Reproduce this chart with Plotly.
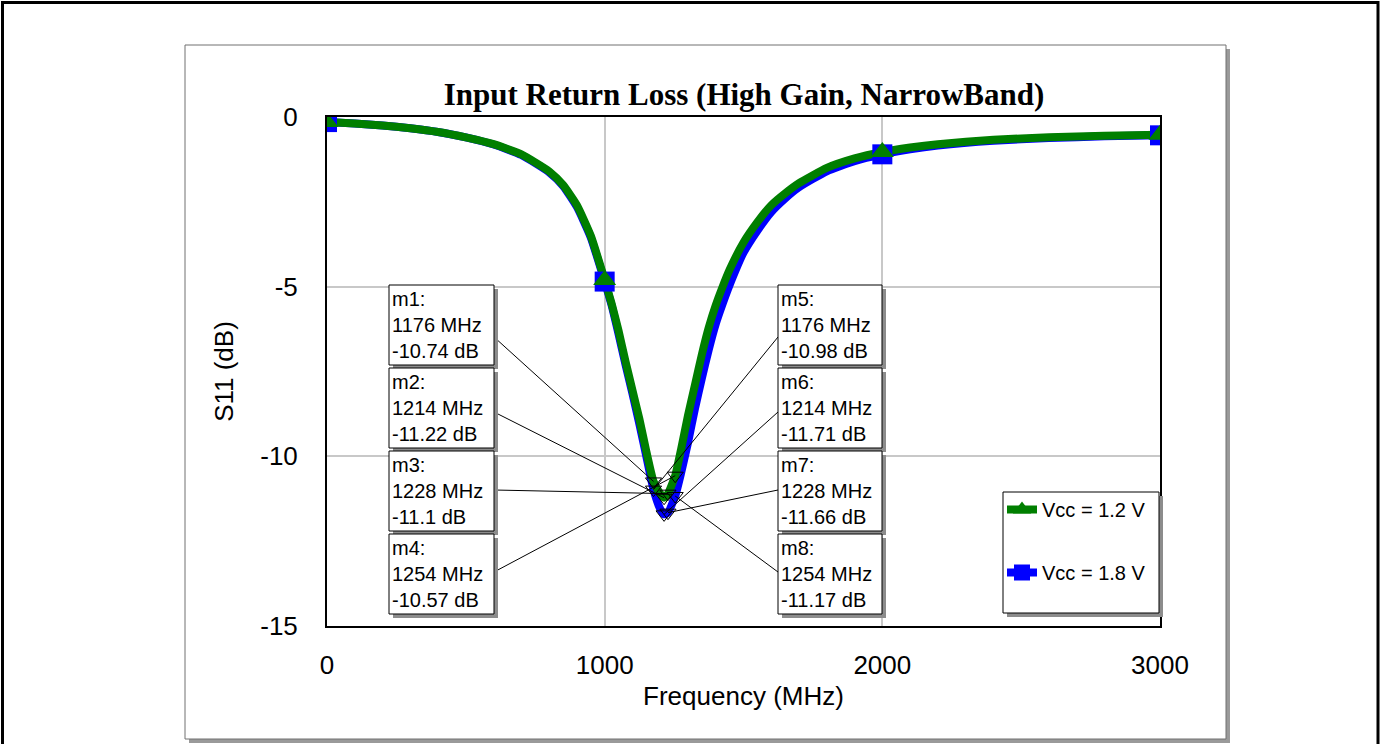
import plotly.graph_objects as go

# ---------------- data ----------------
freq_mhz = [0, 100, 200, 300, 400, 500, 600, 700, 800, 850, 900, 950, 1000, 1025, 1050,
            1075, 1100, 1125, 1150, 1176, 1200, 1214, 1228, 1254, 1275, 1300, 1325, 1350,
            1375, 1400, 1425, 1450, 1500, 1550, 1600, 1650, 1700, 1800, 1900, 2000, 2100,
            2200, 2400, 2600, 2800, 3000]
s11_12v = [-0.15, -0.19, -0.25, -0.33, -0.44, -0.6, -0.8, -1.1, -1.6, -2.0, -2.6, -3.5,
           -4.8, -5.5, -6.3, -7.2, -8.05, -8.9, -9.85, -10.74, -11.1, -11.22, -11.1,
           -10.57, -9.8, -8.8, -7.9, -7.0, -6.2, -5.55, -5.0, -4.5, -3.7, -3.1, -2.6,
           -2.25, -1.95, -1.5, -1.22, -1.03, -0.9, -0.8, -0.67, -0.6, -0.55, -0.52]
s11_18v = [-0.15, -0.19, -0.25, -0.33, -0.44, -0.6, -0.81, -1.12, -1.63, -2.03, -2.65,
           -3.55, -4.85, -5.55, -6.4, -7.3, -8.15, -9.05, -10.0, -10.98, -11.55, -11.71,
           -11.66, -11.17, -10.5, -9.6, -8.6, -7.7, -6.85, -6.1, -5.5, -4.95, -4.0,
           -3.35, -2.8, -2.4, -2.07, -1.6, -1.3, -1.1, -0.95, -0.84, -0.7, -0.62, -0.57,
           -0.54]
symbol_freqs = [0, 1000, 2000, 3000]

marker_names = ["m1", "m2", "m3", "m4", "m5", "m6", "m7", "m8"]
marker_freqs = [1176, 1214, 1228, 1254, 1176, 1214, 1228, 1254]
marker_vals = [-10.74, -11.22, -11.1, -10.57, -10.98, -11.71, -11.66, -11.17]
x_ticks = [0, 1000, 2000, 3000]
y_ticks = [0, -5, -10, -15]

# ---------------- layout geometry (pixels) ----------------
W, H = 1383, 744
PL, PR, PT, PB = 327, 1160, 117, 626
XR = [0, 3000]
YR = [-15, 0]


def xp(px):
    return (px - PL) / (PR - PL)


def yp(py):
    return (PB - py) / (PB - PT)


def xd(px):
    return XR[0] + xp(px) * (XR[1] - XR[0])


def yd(py):
    return YR[0] + yp(py) * (YR[1] - YR[0])


ARIAL = "Arial, Liberation Sans, sans-serif"
TIMES = "Times New Roman, Liberation Serif, serif"
GREEN = "#007f00"
BLUE = "#0000ff"

fig = go.Figure()

sym_idx = [i for i, f in enumerate(freq_mhz) if f in symbol_freqs]

# curves
fig.add_trace(go.Scatter(
    x=freq_mhz, y=s11_18v, mode="lines", showlegend=False, hoverinfo="skip",
    line=dict(color=BLUE, width=8, shape="spline", smoothing=0.5)))
fig.add_trace(go.Scatter(
    x=freq_mhz, y=s11_12v, mode="lines", showlegend=False, hoverinfo="skip",
    line=dict(color=GREEN, width=8, shape="spline", smoothing=0.5)))
# curve symbols
fig.add_trace(go.Scatter(
    x=[freq_mhz[i] for i in sym_idx], y=[s11_18v[i] for i in sym_idx], mode="markers",
    showlegend=False, hoverinfo="skip",
    marker=dict(symbol="square", size=20, color=BLUE, line=dict(width=0))))
fig.add_trace(go.Scatter(
    x=[freq_mhz[i] for i in sym_idx], y=[s11_12v[i] for i in sym_idx], mode="markers",
    showlegend=False, hoverinfo="skip",
    marker=dict(symbol="triangle-up", size=20, color=GREEN, line=dict(width=0))))

# legend entries
fig.add_trace(go.Scatter(
    x=[None], y=[None], mode="lines+markers", name="Vcc = 1.2 V", legendgroup="a",
    line=dict(color=GREEN, width=8), marker=dict(symbol="triangle-up", size=16, color=GREEN)))
fig.add_trace(go.Scatter(
    x=[None], y=[None], mode="lines+markers", name="Vcc = 1.8 V", legendgroup="b",
    line=dict(color=BLUE, width=8), marker=dict(symbol="square", size=16, color=BLUE)))

# marker boxes geometry
box_tops = [285, 368, 451, 534]
box_h = 80
left_box = (389, 494)
right_box = (778, 882)
anchor_offsets = [52, 44, 39, 38]

shapes = []
annotations = []

for i, (name, f, v) in enumerate(zip(marker_names, marker_freqs, marker_vals)):
    row = i % 4
    top = box_tops[row]
    if i < 4:
        bx0, bx1 = left_box
        ax = bx1
    else:
        bx0, bx1 = right_box
        ax = bx0
    ay = top + anchor_offsets[row]
    fig.add_trace(go.Scatter(
        x=[xd(ax), f], y=[yd(ay), v], mode="lines",
        line=dict(color="black", width=1), showlegend=False, hoverinfo="skip"))
    shapes.append(dict(type="rect", xref="paper", yref="paper", layer="above",
                       x0=xp(bx0 + 4), x1=xp(bx1 + 4), y0=yp(top + box_h + 4), y1=yp(top + 4),
                       fillcolor="#8c8c8c", line=dict(width=0)))
    shapes.append(dict(type="rect", xref="paper", yref="paper", layer="above",
                       x0=xp(bx0), x1=xp(bx1), y0=yp(top + box_h), y1=yp(top),
                       fillcolor="white", line=dict(color="black", width=1)))
    annotations.append(dict(
        xref="paper", yref="paper", x=xp(bx0 + 1), y=yp(top + box_h / 2),
        xanchor="left", yanchor="middle", align="left", showarrow=False,
        text=f"{name}:<br>{f} MHz<br>{v} dB",
        font=dict(family=ARIAL, size=20, color="black")))

fig.add_trace(go.Scatter(
    x=marker_freqs, y=marker_vals, mode="markers", showlegend=False,
    marker=dict(symbol="triangle-down-open", size=14, color="black", line=dict(width=1)),
    hoverinfo="skip"))

# legend box
lx0, ly0, lx1, ly1 = 1003, 492, 1159, 613
shapes.append(dict(type="rect", xref="paper", yref="paper", layer="above",
                   x0=xp(lx0 + 4), x1=xp(lx1 + 4), y0=yp(ly1 + 4), y1=yp(ly0 + 4),
                   fillcolor="#8c8c8c", line=dict(width=0)))
shapes.append(dict(type="rect", xref="paper", yref="paper", layer="above",
                   x0=xp(lx0), x1=xp(lx1), y0=yp(ly1), y1=yp(ly0),
                   fillcolor="white", line=dict(color="black", width=1)))

# panel + shadow + outer frame
shapes.append(dict(type="rect", xref="paper", yref="paper", layer="below",
                   x0=xp(189), x1=xp(1230), y0=yp(743), y1=yp(49),
                   fillcolor="#9a9a9a", line=dict(width=0)))
shapes.append(dict(type="rect", xref="paper", yref="paper", layer="below",
                   x0=xp(185), x1=xp(1226), y0=yp(739), y1=yp(45),
                   fillcolor="white", line=dict(color="#707070", width=1)))
shapes.append(dict(type="rect", xref="paper", yref="paper", layer="below",
                   x0=xp(2.5), x1=xp(1378), y0=yp(770), y1=yp(2.5),
                   fillcolor="rgba(0,0,0,0)", line=dict(color="black", width=3)))

fig.update_layout(
    width=W, height=H,
    margin=dict(l=PL, r=W - PR, t=PT, b=H - PB, autoexpand=False),
    paper_bgcolor="white", plot_bgcolor="white",
    font=dict(family=ARIAL, size=26, color="black"),
    title=dict(text="<b>Input Return Loss (High Gain, NarrowBand)</b>",
               font=dict(family=TIMES, size=31, color="black"),
               x=xp(744), xref="paper", xanchor="center",
               y=1 - 94 / H, yref="container", yanchor="middle"),
    showlegend=True,
    legend=dict(x=xp(lx0 - 1), y=yp(ly0 - 2), xanchor="left", yanchor="top",
                bgcolor="rgba(0,0,0,0)", borderwidth=0,
                font=dict(family=ARIAL, size=20, color="black"),
                tracegroupgap=34, itemwidth=30),
    shapes=shapes,
    annotations=annotations,
)

fig.update_xaxes(range=XR, tickvals=x_ticks, ticktext=[str(t) for t in x_ticks],
                 showgrid=True, gridcolor="#c8c8c8", gridwidth=2,
                 showline=True, linecolor="black", linewidth=2, mirror=True,
                 zeroline=False, ticks="", ticklabelstandoff=15,
                 title=dict(text="Frequency (MHz)", standoff=8,
                            font=dict(family=ARIAL, size=26)),
                 tickfont=dict(family=ARIAL, size=26))
fig.update_yaxes(range=YR, tickvals=y_ticks, ticktext=[str(t) for t in y_ticks],
                 showgrid=True, gridcolor="#c8c8c8", gridwidth=2,
                 showline=True, linecolor="black", linewidth=2, mirror=True,
                 zeroline=False, ticks="", ticklabelstandoff=22,
                 title=dict(text="S11 (dB)", standoff=19,
                            font=dict(family=ARIAL, size=26)),
                 tickfont=dict(family=ARIAL, size=26))

fig.write_html("out.html", config={"displayModeBar": False},
               post_script="document.body.style.margin='0px';")
